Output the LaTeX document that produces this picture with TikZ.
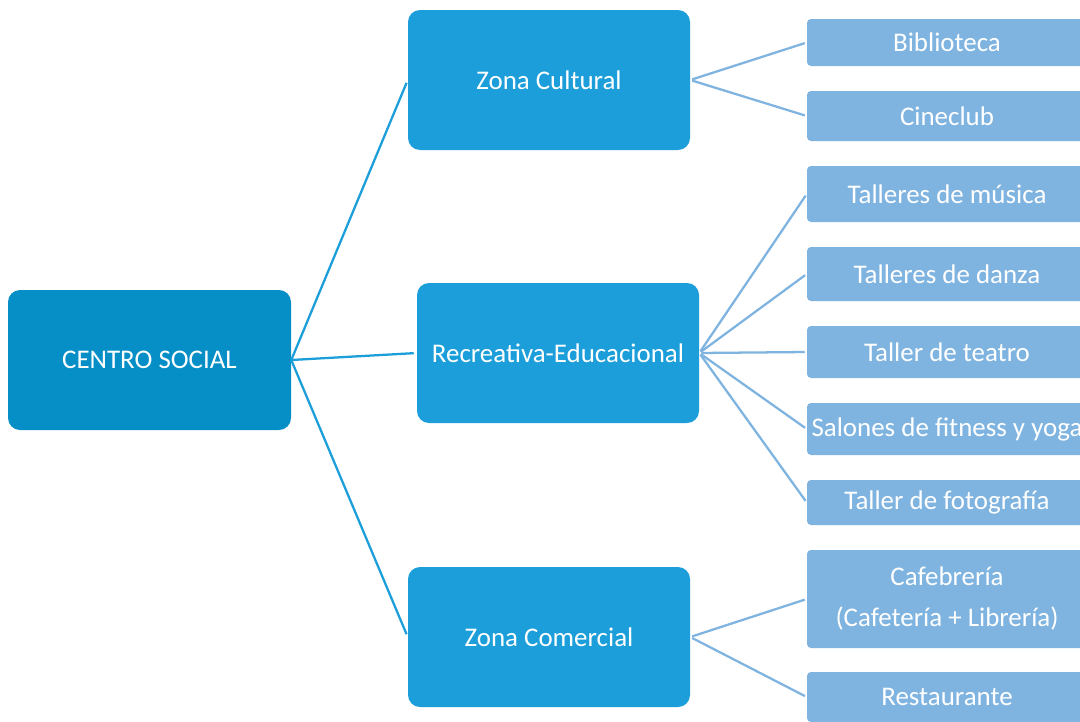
\documentclass[tikz,border=0pt]{standalone}
\usepackage{fontspec}
\setmainfont{Carlito}
\definecolor{centrocol}{HTML}{068FC6}
\definecolor{zonacol}{HTML}{1B9ED9}
\definecolor{itemcol}{HTML}{7FB4E0}

\begin{document}
\begin{tikzpicture}
  [x=0.75pt,y=-0.75pt,
   every node/.style={text=white,font=\fontsize{20.2}{30.75}\selectfont,align=center,inner sep=0pt},
   centro/.style={fill=centrocol,rounded corners=9pt,minimum width=212.25pt,minimum height=105pt},
   zona/.style={fill=zonacol,rounded corners=9pt,minimum width=211.5pt,minimum height=105pt},
   item/.style={fill=itemcol,rounded corners=3pt,minimum width=210pt}]
  \path[use as bounding box,fill=white] (0,0) rectangle (1080,721);

  \node[centro] (C) at (149.5,360) {CENTRO SOCIAL};

  \node[zona] (Z1) at (549,80) {Zona Cultural};
  \node[zona] (Z2) at (558,353) {Recreativa-Educacional};
  \node[zona] (Z3) at (549,637) {Zona Comercial};

  \node[item,minimum height=35.25pt] (A1) at (947,42.5) {Biblioteca};
  \node[item,minimum height=37.5pt] (A2) at (947,116) {Cineclub};
  \node[item,minimum height=42pt] (B1) at (947,194) {Talleres de música};
  \node[item,minimum height=40.5pt] (B2) at (947,274) {Talleres de danza};
  \node[item,minimum height=39pt] (B3) at (947,352) {Taller de teatro};
  \node[item,minimum height=39pt] (B4) at (947,429) {Salones de fitness y yoga};
  \node[item,minimum height=33.75pt] (B5) at (947,502.5) {Taller de fotografía};
  \node[item,minimum height=73.5pt] (D1) at (947,599) {Cafebrería\\(Cafetería + Librería)};
  \node[item,minimum height=37.5pt] (D2) at (947,697) {Restaurante};

  \path[draw,zonacol,line width=1.7pt,shorten >=2.25pt]
  (C.east) edge (Z1.west)
  (C.east) edge (Z2.west)
  (C.east) edge (Z3.west);
  \path[draw,itemcol,line width=1.7pt,shorten <=1.5pt,shorten >=1.5pt]
  (Z1.east) edge (A1.west)
  (Z1.east) edge (A2.west)
  (Z2.east) edge (B1.west)
  (Z2.east) edge (B2.west)
  (Z2.east) edge (B3.west)
  (Z2.east) edge (B4.west)
  (Z2.east) edge (B5.west)
  (Z3.east) edge (D1.west)
  (Z3.east) edge (D2.west);
\end{tikzpicture}
\end{document}
